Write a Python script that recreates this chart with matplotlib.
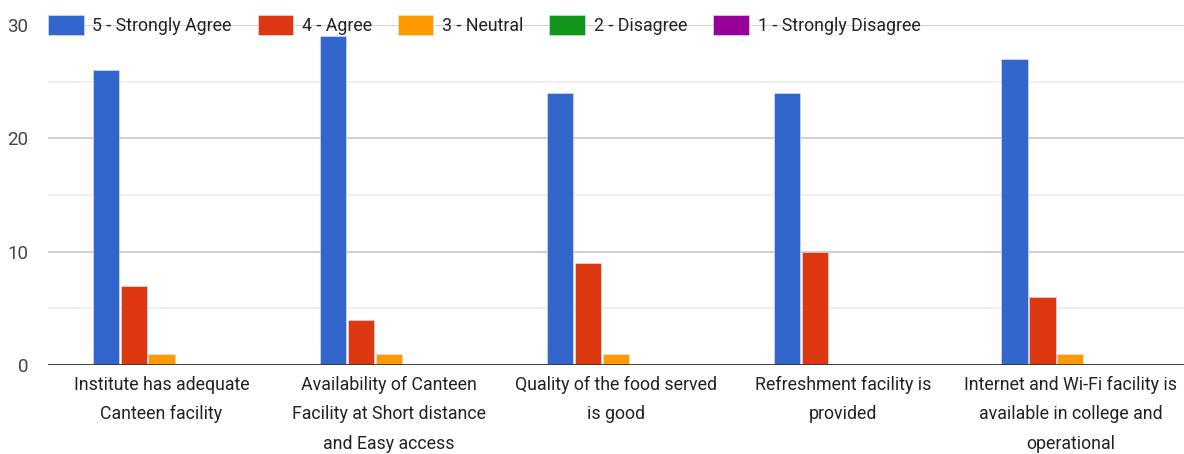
import numpy as np
import matplotlib
matplotlib.use("Agg")
import matplotlib.pyplot as plt
from matplotlib.ticker import MultipleLocator

plt.rcParams['font.family'] = ['Roboto', 'DejaVu Sans']

categories = ["Institute has adequate\nCanteen facility",
              "Availability of Canteen\nFacility at Short distance\nand Easy access",
              "Quality of the food served\nis good",
              "Refreshment facility is\nprovided",
              "Internet and Wi-Fi facility is\navailable in college and\noperational"]
series_names = ["5 - Strongly Agree", "4 - Agree", "3 - Neutral", "2 - Disagree", "1 - Strongly Disagree"]
strongly_agree = [26, 29, 24, 24, 27]
agree = [7, 4, 9, 10, 6]
neutral = [1, 1, 1, 0, 1]
disagree = [0, 0, 0, 0, 0]
strongly_disagree = [0, 0, 0, 0, 0]
colors = ["#3366CC", "#DC3912", "#FF9900", "#109618", "#990099"]

series = [strongly_agree, agree, neutral, disagree, strongly_disagree]

fig = plt.figure(figsize=(11.84, 4.54), dpi=100)
ax = fig.add_axes([0.0405, 0.196, 0.9595, 0.749])

x = np.arange(len(categories))
slot = 0.123
width = 0.115
for i, (vals, name, c) in enumerate(zip(series, series_names, colors)):
    ax.bar(x + (i - 2) * slot, vals, width, color=c, label=name,
           edgecolor="#dfe6f5", linewidth=0.4, zorder=3)

ax.set_xlim(-0.5, len(categories) - 0.5)
ax.set_ylim(0, 30)
ax.yaxis.set_major_locator(MultipleLocator(10))
ax.yaxis.set_minor_locator(MultipleLocator(5))
ax.grid(axis="y", which="major", color="#cccccc", linewidth=1.3, zorder=0)
ax.grid(axis="y", which="minor", color="#ebebeb", linewidth=1.1, zorder=0)
ax.axhline(0, color="#333333", linewidth=2, zorder=4)

for s in ax.spines.values():
    s.set_visible(False)
ax.tick_params(axis="both", which="both", length=0)
ax.tick_params(axis="y", labelsize=13.5, labelcolor="#444444", pad=14)
ax.set_xticks(x)
ax.set_xticklabels(categories, fontsize=12.8, color="#222222", linespacing=1.8)
ax.tick_params(axis="x", pad=8)

leg = ax.legend(loc="center left", bbox_to_anchor=(0, 1.0), ncol=5, frameon=False,
                fontsize=12.8, handlelength=2.0, handleheight=1.3,
                handletextpad=0.5, columnspacing=1.45, borderaxespad=0, borderpad=0)
for t in leg.get_texts():
    t.set_color("#222222")

fig.savefig("out.png", dpi=100)
